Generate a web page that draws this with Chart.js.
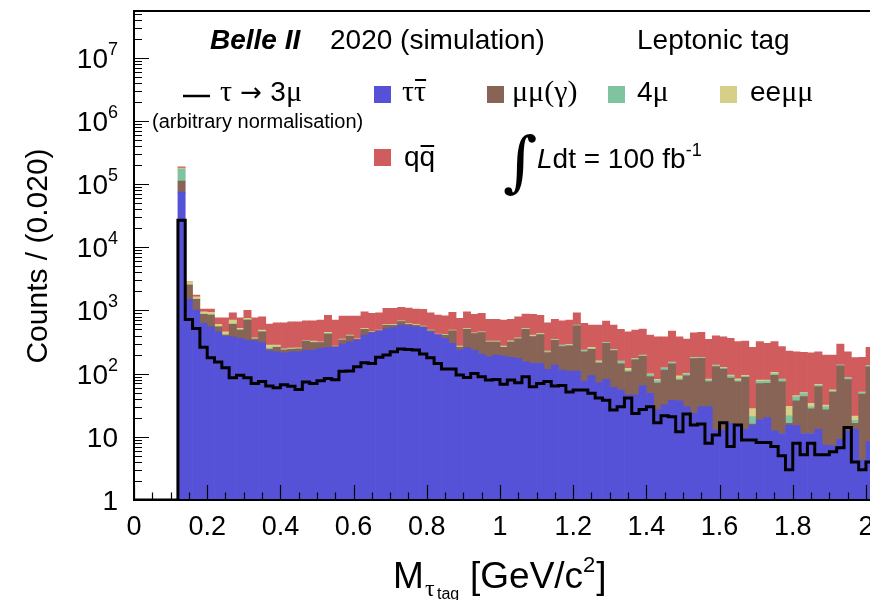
<!DOCTYPE html>
<html lang="en">
<head>
<meta charset="UTF-8">
<title>M(tau_tag), leptonic tag</title>
<script src="https://cdn.jsdelivr.net/npm/chart.js"></script>
<style>
  html, body { margin: 0; padding: 0; background: #fff; overflow: hidden; }
  #wrap { width: 880px; height: 600px; }
</style>
</head>
<body>
<div id="wrap"><canvas id="mtag" width="880" height="600"></canvas></div>
<script>
// 0.020 GeV/c^2 bins, the first filled bin starts at 0.12
const binLow = 0.12;
const binWidth = 0.02;

// stacked backgrounds, bottom to top
const tautau = [74700, 1500, 1015, 624, 553, 460, 390, 384, 361, 340, 332, 309, 230, 222, 214, 222, 222, 236, 236, 251,
  260, 260, 294, 320, 340, 408, 444, 472, 514, 540, 587, 573, 553, 540, 460, 413, 361, 301, 236, 257,
  236, 204, 185, 197, 190, 181, 174, 154, 145, 145, 117, 137, 114, 110, 110, 76, 93, 72, 81, 61,
  55, 46, 46, 64, 49, 27, 32, 38, 37, 30, 23.5, 30, 30, 12.8, 12.8, 16.3, 14.5, 13.1, 15.4, 18.4,
  20.1, 12.4, 11.3, 15.4, 15, 11.3, 11.3, 13.1, 7.4, 7.2, 9.1, 12.4, 13.3, 4.3, 8.4];
const mumu = [36800, 1020, 482, 243, 293, 93, 18, 218, 129, 365, 21, 151, 12, 38, 22, 20, 23, 92, 73, 58,
  163, 7, 46, 72, 8, 93, 8, 10, 68, 42, 78, 33, 30, 13, 18, 2, 44, 175, 25, 248,
  194, 242, 130, 118, 70, 134, 181, 348, 240, 271, 99, 199, 154, 166, 463, 145, 149, 75, 221, 171,
  88, 61, 119, 124, 41, 44, 82, 105, 42, 62, 149, 145, 45, 117, 105, 69, 60, 74, 0.5, 51,
  50, 82, 63, 1, 22, 32, 16.5, 49.5, 19.4, 44, 124, 68, 3, 43, 120];
const fourMu = [61200, 20, 13, 8, 9, 5, 8, 10, 5, 6, 4, 5, 12, 6, 4, 5, 6, 3, 7, 4,
  6, 2, 5, 6, 3, 7, 3, 3, 8, 6, 8, 6, 5, 4, 4, 2, 5, 6, 4, 7,
  6, 6, 5, 5, 4, 5, 5, 8, 8, 8, 8, 8, 12, 6, 8, 10, 6, 5, 7, 7,
  12, 5, 6, 6, 7, 7, 8, 7, 4, 6, 5, 4, 4, 4, 5, 6, 3, 4, 5, 6,
  6, 5, 6, 5, 6, 5, 2, 3, 3, 2, 3, 5, 2, 3, 5];
const eemumu = [6300, 240, 140, 80, 80, 44, 44, 93, 25, 38, 13, 25, 30, 18, 8, 7, 6, 5, 12, 7,
  20, 4, 8, 10, 6, 12, 5, 5, 12, 14, 15, 12, 14, 10, 8, 6, 8, 8, 8, 8,
  8, 8, 8, 8, 9, 12, 10, 10, 15, 10, 4, 4, 4, 8, 6, 5, 12, 8, 3, 3,
  3, 9, 3, 3, 2, 3, 2, 3, 9, 3, 3, 2, 3, 3, 3, 4, 5, 3, 7, 4,
  3, 6, 2, 9, 2, 2, 4, 2, 2, 2, 1, 1, 3, 1, 1];
const qqbar = [9000, 50, 103, 97, 117, 165, 307, 216, 247, 253, 397, 306, 325, 356, 392, 409, 406, 352, 360, 385,
  387, 432, 462, 407, 458, 435, 439, 431, 476, 476, 431, 467, 450, 473, 431, 423, 408, 441, 476, 435,
  423, 439, 394, 394, 432, 390, 426, 357, 459, 402, 412, 374, 404, 415, 334, 388, 327, 427, 368, 345,
  344, 339, 316, 311, 309, 303, 260, 319, 292, 252, 263, 268, 266, 261, 258, 266, 238, 234, 232, 241,
  222, 215, 185, 198, 177, 167, 180, 154, 165, 142, 157, 136, 159, 130, 126];
// signal, arbitrary normalisation
const tau3mu = [26900, 720, 520, 262, 178, 153, 124, 86, 94, 86, 70, 75, 64, 60, 67, 63, 56, 74, 70, 77,
  84, 80, 109, 110, 129, 149, 145, 181, 197, 222, 245, 242, 236, 204, 179, 145, 118, 118, 95, 87,
  101, 89, 79, 81, 68, 79, 72, 89, 62, 70, 75, 64, 65, 51, 55, 55, 49, 41, 38, 26.5,
  30, 41, 23.5, 27, 30, 16.7, 21.6, 20.8, 12, 23, 15.4, 16, 7.9, 10.7, 16.7, 7, 15.4, 8.9, 8.9, 8.1,
  8.1, 7, 5, 3, 7.9, 5.2, 7.9, 5.2, 5.2, 5.8, 6.7, 14.1, 4, 3, 4];

const xTickValues = [0, 0.2, 0.4, 0.6, 0.8, 1, 1.2, 1.4, 1.6, 1.8, 2];
const xTickLabels = ['0', '0.2', '0.4', '0.6', '0.8', '1', '1.2', '1.4', '1.6', '1.8', '2'];
const yTickValues = [1, 10, 1e2, 1e3, 1e4, 1e5, 1e6, 1e7];
const yTickLabels = [['1', ''], ['10', ''], ['10', '2'], ['10', '3'], ['10', '4'], ['10', '5'], ['10', '6'], ['10', '7']];

const colours = { tautau: '#5652D8', mumu: '#876455', fourMu: '#7FC3A0', eemumu: '#D5CF87', qqbar: '#D05C5E' };

const SANS = '"Liberation Sans", Arial, Helvetica, sans-serif';
const SERIF = '"Liberation Serif", "Times New Roman", serif';

const centers = tautau.map((_, i) => +(binLow + binWidth * (i + 0.5)).toFixed(3));
const asBars = vals => vals.map((v, i) => ({ x: centers[i], y: v }));

// step outline: flat at the bottom up to the first bin, then one step per bin
const sigPoints = [{ x: 0, y: 1 }];
tau3mu.forEach((v, i) => sigPoints.push({ x: +(binLow + binWidth * i).toFixed(3), y: v }));
sigPoints.push({ x: +(binLow + binWidth * tau3mu.length).toFixed(3), y: tau3mu[tau3mu.length - 1] });

function bar(label, vals, colour) {
  return { type: 'bar', label, data: asBars(vals), backgroundColor: colour, borderWidth: 0, order: 1 };
}

// draws text made of pieces [text, font, dy], left to right
function pieces(ctx, x, y, list) {
  for (const [t, f, dy] of list) {
    ctx.font = f;
    ctx.fillText(t, x, y + (dy || 0));
    x += ctx.measureText(t).width;
  }
  return x;
}

function overline(ctx, x0, x1, y) {
  ctx.beginPath();
  ctx.moveTo(x0, y);
  ctx.lineTo(x1, y);
  ctx.stroke();
}

const frame = {
  id: 'frame',
  afterDraw(chart) {
    const { ctx, chartArea: a, scales: { x, y } } = chart;
    ctx.save();
    ctx.strokeStyle = '#000';
    ctx.fillStyle = '#000';

    // ticks point into the frame
    ctx.lineWidth = 1.2;
    ctx.beginPath();
    for (let k = 0; k <= 40; k++) {
      const px = Math.round(x.getPixelForValue(k * 0.05)) + 0.5;
      const len = k % 4 === 0 ? 15 : 7.5;
      ctx.moveTo(px, a.bottom);
      ctx.lineTo(px, a.bottom - len);
    }
    for (let d = 0; d <= 7; d++) {
      for (let m = 1; m <= 9; m++) {
        const v = m * Math.pow(10, d);
        if (v > y.max) break;
        const py = Math.round(y.getPixelForValue(v)) + 0.5;
        ctx.moveTo(a.left, py);
        ctx.lineTo(a.left + (m === 1 ? 15 : 8), py);
      }
    }
    ctx.stroke();

    ctx.lineWidth = 2;
    ctx.beginPath();
    ctx.moveTo(a.right + 5, a.top);
    ctx.lineTo(a.left, a.top);
    ctx.lineTo(a.left, a.bottom);
    ctx.lineTo(a.right + 5, a.bottom);
    ctx.stroke();

    // tick labels
    ctx.textBaseline = 'alphabetic';
    ctx.textAlign = 'center';
    ctx.font = '27px ' + SANS;
    xTickValues.forEach((v, i) => ctx.fillText(xTickLabels[i], x.getPixelForValue(v), 535));

    ctx.textAlign = 'left';
    yTickValues.forEach((v, i) => {
      const [base, exp] = yTickLabels[i];
      const py = y.getPixelForValue(v);
      ctx.font = '28px ' + SANS;
      const wb = ctx.measureText(base).width;
      ctx.font = '18px ' + SANS;
      const we = exp ? ctx.measureText(exp).width : 0;
      const x0 = 118 - wb - we;
      ctx.font = '28px ' + SANS;
      ctx.fillText(base, x0, py + 10);
      if (exp) {
        ctx.font = '18px ' + SANS;
        ctx.fillText(exp, x0 + wb, py - 3);
      }
    });

    // axis titles
    ctx.save();
    ctx.translate(47, 256);
    ctx.rotate(-Math.PI / 2);
    ctx.textAlign = 'center';
    ctx.font = '30px ' + SANS;
    ctx.fillText('Counts / (0.020)', 0, 0);
    ctx.restore();

    ctx.textAlign = 'left';
    pieces(ctx, 393, 588, [['M', '37px ' + SANS]]);
    pieces(ctx, 425, 596, [['τ', '24px ' + SERIF]]);
    pieces(ctx, 437, 599, [['tag', '16px ' + SANS]]);
    let xe = pieces(ctx, 470, 588, [['[GeV/c', '37px ' + SANS]]);
    xe = pieces(ctx, xe, 572, [['2', '22px ' + SANS]]);
    pieces(ctx, xe + 1, 588, [[']', '37px ' + SANS]]);

    // header line
    pieces(ctx, 210, 49, [['Belle II', 'italic bold 28px ' + SANS]]);
    pieces(ctx, 330, 49, [['2020 (simulation)', '28px ' + SANS]]);
    pieces(ctx, 637, 49, [['Leptonic tag', '28px ' + SANS]]);

    // legend, signal entry
    ctx.lineWidth = 2.5;
    overline(ctx, 183, 210, 96);
    pieces(ctx, 220, 101, [['τ', '30px ' + SERIF], [' → ', '26px "DejaVu Sans", sans-serif'], ['3', '28px ' + SANS], ['μ', '30px ' + SERIF]]);
    pieces(ctx, 152, 128, [['(arbitrary normalisation)', '20px ' + SANS]]);

    // legend, background boxes
    const box = (c, bx, by) => { ctx.fillStyle = c; ctx.fillRect(bx, by, 17, 17); ctx.fillStyle = '#000'; };
    ctx.lineWidth = 2;
    box(colours.tautau, 374, 86);
    let t1 = pieces(ctx, 402, 101, [['τ', '30px ' + SERIF]]);
    let t2 = pieces(ctx, t1, 101, [['τ', '30px ' + SERIF]]);
    overline(ctx, t1 + 1, t2, 80);

    box(colours.mumu, 487, 86);
    pieces(ctx, 512, 101, [['μμ(γ)', '30px ' + SERIF]]);

    box(colours.fourMu, 608, 86);
    pieces(ctx, 637, 101, [['4', '28px ' + SANS], ['μ', '30px ' + SERIF]]);

    box(colours.eemumu, 720, 86);
    pieces(ctx, 750, 101, [['ee', '28px ' + SANS], ['μμ', '30px ' + SERIF]]);

    box(colours.qqbar, 374, 149);
    let q1 = pieces(ctx, 404, 166, [['q', '28px ' + SANS]]);
    let q2 = pieces(ctx, q1, 166, [['q', '28px ' + SANS]]);
    overline(ctx, q1 + 1, q2 - 1, 146);

    // luminosity
    pieces(ctx, 503, 184, [['∫', '66px "DejaVu Serif", serif']]);
    let lx = pieces(ctx, 537, 168, [['L', 'italic 28px ' + SANS], ['dt = 100 fb', '28px ' + SANS]]);
    pieces(ctx, lx, 156, [['-1', '18px ' + SANS]]);

    ctx.restore();
  }
};

new Chart(document.getElementById('mtag'), {
  type: 'bar',
  data: {
    datasets: [
      bar('ττ', tautau, colours.tautau),
      bar('μμ(γ)', mumu, colours.mumu),
      bar('4μ', fourMu, colours.fourMu),
      bar('eeμμ', eemumu, colours.eemumu),
      bar('qq', qqbar, colours.qqbar),
      {
        type: 'line',
        label: 'τ → 3μ',
        data: sigPoints,
        borderColor: '#000',
        borderWidth: 3,
        pointRadius: 0,
        fill: false,
        stepped: 'before',
        order: 0
      }
    ]
  },
  options: {
    responsive: false,
    animation: false,
    events: [],
    layout: { padding: { left: 134, top: 11, right: 6.7, bottom: 100 } },
    datasets: { bar: { barPercentage: 1, categoryPercentage: 1 } },
    plugins: { legend: { display: false }, tooltip: { enabled: false } },
    scales: {
      x: { type: 'linear', min: 0, max: 2.02, offset: false, stacked: true, display: false },
      y: { type: 'logarithmic', min: 1, max: 5.5e7, stacked: true, display: false }
    }
  },
  plugins: [frame]
});
</script>
</body>
</html>
